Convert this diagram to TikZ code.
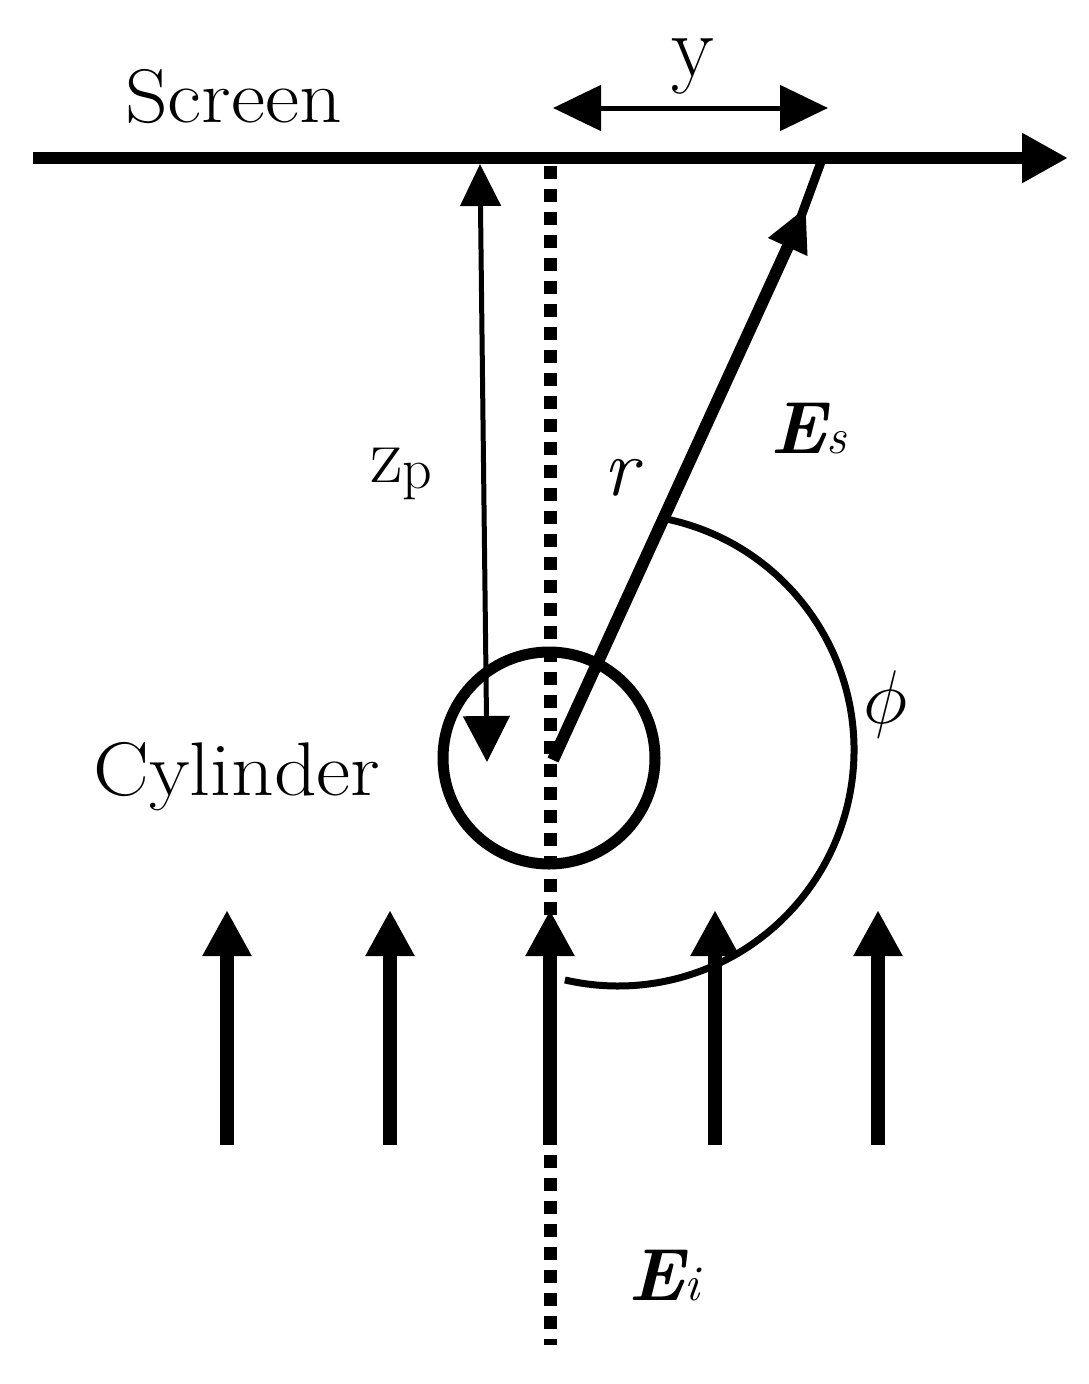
\RequirePackage{fix-cm}
\documentclass[tikz,border=0pt]{standalone}
\usepackage{fontspec}
\usetikzlibrary{arrows.meta,calc}
\begin{document}
\begin{tikzpicture}[x=1pt,y=-1pt,
  lbl/.style={inner sep=0pt, anchor=base west},
  bigtip/.style={-{Triangle[length=46pt,width=46pt]}},
  thinarrow/.style={line width=5pt},
]
\useasboundingbox (0,0) rectangle (1088,1384);
% screen
\coordinate (scrL) at (33,158);
\coordinate (scrR) at (1068,158);
\draw[line width=12pt, -{Triangle[length=46pt,width=47pt]}] (scrL) -- (scrR);
\node[lbl] (screen) at (125,122) {\fontsize{76}{90}\selectfont\scalebox{1.1}[1]{Screen}};
% y distance
\coordinate (yL) at (553,108);
\coordinate (yR) at (828,108);
\draw[thinarrow, {Triangle[length=48pt,width=45pt]}-{Triangle[length=48pt,width=45pt]}] (yL) -- (yR);
\node[lbl] (ylab) at (671,76) {\fontsize{88}{100}\selectfont y};
% dotted axis
\coordinate (axT) at (550,166);
\coordinate (axB) at (550,1345);
\draw[line width=13pt, dash pattern=on 13pt off 10pt] (axT) -- (axB);
% cylinder
\node[circle, draw, line width=11pt, minimum size=212pt, inner sep=0pt] (cyl) at (549,758) {};
\node[lbl] (cyllab) at (93,795) {\fontsize{76}{90}\selectfont\scalebox{1.1}[1]{Cylinder}};
\coordinate (O) at (553,760);
% zp arrow
\coordinate (zpTop) at (480,164);
\coordinate (zpBot) at (487,762);
\draw[thinarrow, {Triangle[length=42pt,width=40pt]}-{Triangle[length=46pt,width=46pt]}] (zpTop) -- (zpBot);
\node[lbl] (zplab) at (370,482) {\fontsize{80}{96}\selectfont z\raisebox{-6pt}{\fontsize{58}{70}\selectfont p}};
% scattered field
\coordinate (esTip) at (806,207);
\coordinate (esEnd) at (821,162);
\draw[line width=12pt, -{Triangle[length=44pt,width=40pt]}] (O) -- (esTip);
\draw[line width=9pt] ($(esTip)!18pt!(O)$) -- (esEnd);
\node[lbl] (rlab) at (603,495) {\fontsize{82}{96}\selectfont\itshape r};
\node[lbl] (eslab) at (770,453) {\fontsize{74}{90}\selectfont\bfseries\itshape E\fontsize{50}{60}\selectfont\mdseries s};
% angle arc
\coordinate (arcC) at (618,750);
\draw[line width=7pt] ([shift={(-78:236)}]arcC) arc[start angle=-78, end angle=103, radius=236];
\node[inner sep=0pt, anchor=base] (philab) at (886,723) {\fontsize{76}{90}\selectfont$\phi$};
% incident field
\foreach \xx/\nm in {227/a,390/b,550/c,715/d,878/e}{
  \coordinate (in\nm B) at (\xx,1145);
  \coordinate (in\nm T) at (\xx,910);
  \draw[line width=14pt, bigtip] (in\nm B) -- (in\nm T);
}
\node[lbl] (eilab) at (628,1300) {\fontsize{74}{90}\selectfont\bfseries\itshape E\fontsize{50}{60}\selectfont\mdseries i};
\end{tikzpicture}
\end{document}
